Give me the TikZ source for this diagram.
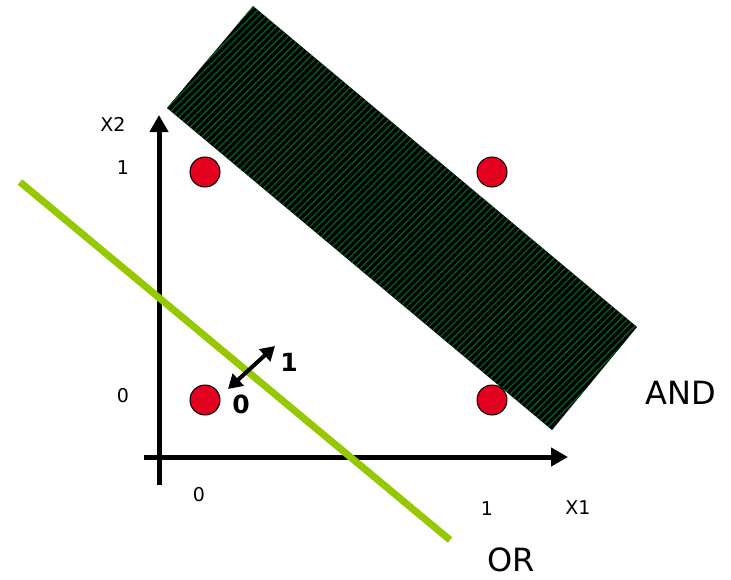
\documentclass[tikz,border=0pt]{standalone}
\usepackage{fontspec}
\setmainfont{DejaVu Sans}
\usetikzlibrary{arrows.meta,patterns.meta}
\definecolor{dotred}{RGB}{227,0,30}
\definecolor{orgreen}{RGB}{150,200,0}
\definecolor{stripegreen}{RGB}{0,95,35}
\tikzset{
  axis/.style={line width=5pt,-{Triangle[length=17pt,width=18pt]}},
  pt/.style={circle,draw=black,line width=1pt,fill=dotred,minimum size=30pt,inner sep=0pt},
  lab/.style={font=\fontsize{19}{22}\selectfont,inner sep=0pt},
  big/.style={font=\fontsize{32}{36}\selectfont,inner sep=0pt},
  bold/.style={font=\fontsize{25}{30}\selectfont\bfseries,inner sep=0pt},
}
\begin{document}
\begin{tikzpicture}[x=1pt,y=-1pt]
\useasboundingbox (0,0) rectangle (731,579);
% AND band
\path[fill=black] (167,108) -- (253,6) -- (637,327) -- (552,430) -- cycle;
\path[pattern={Lines[angle=45,distance=5pt,line width=1.3pt]},pattern color=stripegreen]
  (167,108) -- (253,6) -- (637,327) -- (552,430) -- cycle;
% axes
\coordinate (ybot) at (159,485);
\coordinate (ytop) at (159,115);
\coordinate (xleft) at (144,457);
\coordinate (xright) at (568,457);
\draw[axis] (ybot) -- (ytop);
\draw[axis] (xleft) -- (xright);
% OR line
\coordinate (or1) at (20,182);
\coordinate (or2) at (450,540);
\draw[orgreen,line width=7pt] (or1) -- (or2);
% points
\node[pt] (p00) at (205,400) {};
\node[pt] (p01) at (205,172) {};
\node[pt] (p10) at (492,400) {};
\node[pt] (p11) at (492,172) {};
% double arrow
\coordinate (da0) at (228,389);
\coordinate (da1) at (275,346);
\draw[line width=4pt,{Triangle[length=14pt,width=16pt]}-{Triangle[length=14pt,width=16pt]}] (da0) -- (da1);
\node[bold] (one) at (289,362) {1};
\node[bold] (zero) at (241,404) {0};
% labels
\node[lab] (x2) at (113,124) {X2};
\node[lab] (y1) at (123,168) {1};
\node[lab] (y0) at (123,396) {0};
\node[lab] (x0) at (199,495) {0};
\node[lab] (x1v) at (487,509) {1};
\node[lab] (x1) at (578,508) {X1};
\node[big] (and) at (681,393) {AND};
\node[big] (or) at (511,560) {OR};
\end{tikzpicture}
\end{document}
